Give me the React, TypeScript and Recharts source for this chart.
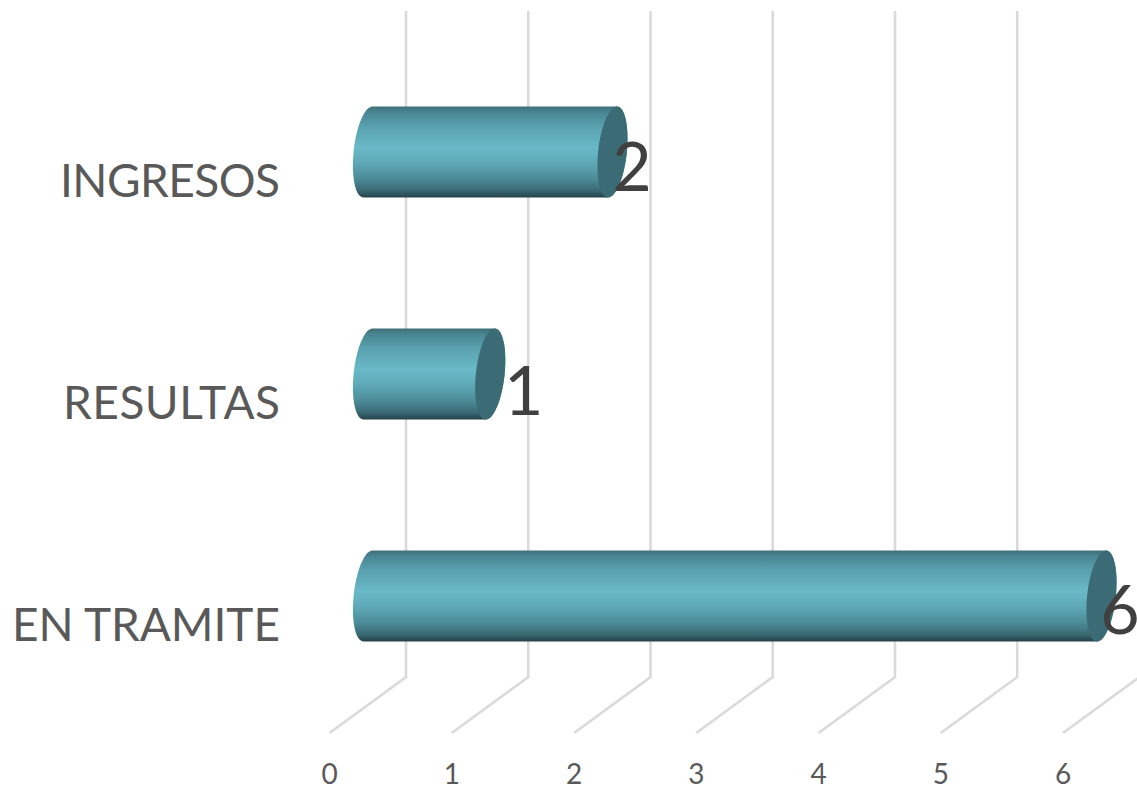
import React from "react";
import { BarChart, Bar, XAxis, YAxis, LabelList, CartesianGrid } from "recharts";

const categories = ["INGRESOS", "RESULTAS", "EN TRAMITE"];
const seriesValues = [2, 1, 6];
const tickValues = [0, 1, 2, 3, 4, 5, 6];

const rows = categories.map((name, i) => ({ name, value: seriesValues[i] }));

const FONT = "Lato, Carlito, 'Open Sans', sans-serif";
const DEPTH_X = 76.5;
const DEPTH_Y = 56;
const GRID_TOP = 11;
const GRID = "#dadada";
const BAR_LIFT = 26.5;
const CENTER_SHIFT = 38.5;
const A = 14.4;
const S = 4.5;
const K = 0.5523;
const LABEL_DX = [58, 72, 57];
const LABEL_DY = [12.5, 14.5, 11.5];
const CATEGORY_WIDTHS = [220, 217, 268];

function CapSide(cx: number, cy: number, b: number, dir: number) {
  const a = A * dir;
  const mx = cx + a;
  return (
    `C ${cx + S + K * a} ${cy - b}, ${mx + K * S} ${cy - K * b}, ${mx} ${cy} ` +
    `C ${mx - K * S} ${cy + K * b}, ${cx - S + K * a} ${cy + b}, ${cx - S} ${cy + b}`
  );
}

function CylinderBar(props: any) {
  const { x, y, width, height } = props;
  const left = x + CENTER_SHIFT;
  const right = x + width + CENTER_SHIFT;
  const b = height / 2;
  const cy = y + b - BAR_LIFT;
  const body =
    `M ${left + S} ${cy - b} L ${right + S} ${cy - b} ` +
    CapSide(right, cy, b, 1) +
    ` L ${left - S} ${cy + b} ` +
    `C ${left - S - K * A} ${cy + b}, ${left - A - K * S} ${cy + K * b}, ${left - A} ${cy} ` +
    `C ${left - A + K * S} ${cy - K * b}, ${left + S - K * A} ${cy - b}, ${left + S} ${cy - b} Z`;
  const cap =
    `M ${right + S} ${cy - b} ` +
    CapSide(right, cy, b, 1) +
    ` C ${right - S - K * A} ${cy + b}, ${right - A - K * S} ${cy + K * b}, ${right - A} ${cy} ` +
    `C ${right - A + K * S} ${cy - K * b}, ${right + S - K * A} ${cy - b}, ${right + S} ${cy - b} Z`;
  return (
    <g>
      <path d={body} fill="url(#cylinderBody)" />
      <path d={cap} fill="#3b6b74" />
    </g>
  );
}

function CategoryTick(props: any) {
  const { y, payload, index } = props;
  return (
    <text
      x={280}
      y={y + 19}
      textAnchor="end"
      textLength={CATEGORY_WIDTHS[index]}
      lengthAdjust="spacing"
      fontFamily={FONT}
      fontSize={46}
      fill="#595959"
    >
      {payload.value}
    </text>
  );
}

function ValueTick(props: any) {
  const { x, y, payload } = props;
  return (
    <text x={x} y={y + 45} textAnchor="middle" fontFamily={FONT} fontSize={28} fill="#595959">
      {payload.value}
    </text>
  );
}

function GridLine(props: any) {
  const { x1, y2 } = props;
  return (
    <polyline
      points={`${x1},${y2} ${x1 + DEPTH_X},${y2 - DEPTH_Y} ${x1 + DEPTH_X},${GRID_TOP}`}
      fill="none"
      stroke={GRID}
      strokeWidth={2.6}
    />
  );
}

function ValueLabel(props: any) {
  const { x, y, width, height, value, index } = props;
  return (
    <text
      x={x + width + LABEL_DX[index]}
      y={y + height / 2 + LABEL_DY[index]}
      textAnchor="middle"
      fontFamily={FONT}
      fontSize={68}
      fill="#404040"
    >
      {value}
    </text>
  );
}

export default function App() {
  return (
    <div style={{ position: "absolute", left: 0, top: 0, width: 1137, height: 786, overflow: "hidden", background: "#fff" }}>
      <BarChart
        width={1137}
        height={786}
        data={rows}
        layout="vertical"
        margin={{ top: 67, right: 74, bottom: 0, left: 0 }}
        barSize={91}
      >
        <defs>
          <linearGradient id="cylinderBody" x1="0" y1="0" x2="0" y2="1">
            <stop offset="0" stopColor="#3f6f78" />
            <stop offset="0.07" stopColor="#4a8794" />
            <stop offset="0.22" stopColor="#5aa1af" />
            <stop offset="0.45" stopColor="#6ab9c8" />
            <stop offset="0.62" stopColor="#5fa9b7" />
            <stop offset="0.8" stopColor="#4b8a96" />
            <stop offset="0.92" stopColor="#3a6a73" />
            <stop offset="1" stopColor="#25424a" />
          </linearGradient>
        </defs>
        <CartesianGrid horizontal={false} vertical={<GridLine />} syncWithTicks />
        <XAxis
          type="number"
          domain={[0, 6]}
          ticks={tickValues}
          interval={0}
          height={53}
          axisLine={false}
          tickLine={false}
          tickMargin={0}
          tick={<ValueTick />}
        />
        <YAxis
          type="category"
          dataKey="name"
          width={329.5}
          axisLine={false}
          tickLine={false}
          tick={<CategoryTick />}
        />
        <Bar dataKey="value" isAnimationActive={false} shape={<CylinderBar />}>
          <LabelList dataKey="value" content={<ValueLabel />} />
        </Bar>
      </BarChart>
    </div>
  );
}
